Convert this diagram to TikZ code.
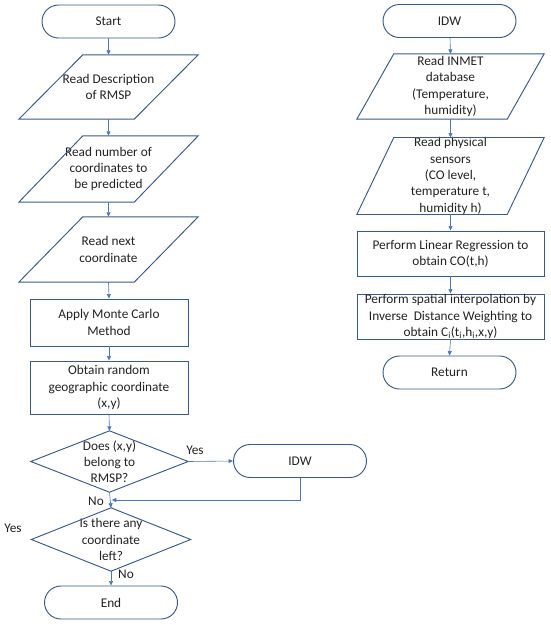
\documentclass[tikz,border=0pt]{standalone}
\usepackage{fontspec}
\setmainfont{Carlito}
\usetikzlibrary{shapes.misc,arrows.meta,calc}
\definecolor{outl}{HTML}{3C5A82}
\definecolor{arr}{HTML}{4F77B5}
\definecolor{txt}{HTML}{222222}
\newcommand\mypara[2]{\draw[shapeline] ([xshift=#2]#1.north west) -- (#1.north east) -- ([xshift=-#2]#1.south east) -- (#1.south west) -- cycle;}
\newcommand\mydiam[1]{\draw[shapeline] (#1.north) -- (#1.east) -- (#1.south) -- (#1.west) -- cycle;}
\begin{document}
\begin{tikzpicture}[x=1pt,y=-1pt,
  every node/.style={font=\fontsize{13.3}{16.3}\selectfont, text=txt, align=center, inner sep=0pt},
  shapeline/.style={draw=outl, line width=0.95pt},
  term/.style={rounded rectangle, shapeline, minimum width=133pt, minimum height=33pt},
  proc/.style={rectangle, shapeline, minimum width=158pt, minimum height=47pt},
  box/.style={rectangle, minimum width=#1},
  conn/.style={draw=arr, line width=0.6pt, -{Triangle[length=4.5pt,width=4pt]}},
  lbl/.style={font=\fontsize{13.3}{15}\selectfont}
]
\useasboundingbox (0,0) rectangle (550,625);
% left column
\node[term] (start) at (108.5,21.5) {Start};
\node[box=179pt, minimum height=64pt] (p1) at (108.5,87) {Read Description\\of RMSP};
\mypara{p1}{64pt}
\node[box=179pt, minimum height=66pt] (p2) at (108.5,169) {Read number of\\coordinates to\\be predicted};
\mypara{p2}{64pt}
\node[box=179pt, minimum height=65pt] (p3) at (108.5,249.5) {Read next\\coordinate};
\mypara{p3}{64pt}
\node[proc] (mc) at (109,322.5) {Apply Monte Carlo\\Method};
\node[proc, minimum height=53pt] (obt) at (109,387.5) {Obtain random\\geographic coordinate\\(x,y)};
\node[box=157pt, minimum height=61pt] (d1) at (109.5,461.5) {Does (x,y)\\belong to\\RMSP?};
\mydiam{d1}
\node[term] (idw1) at (300,461) {IDW};
\node[box=159pt, minimum height=63pt] (d2) at (111,539.5) {Is there any\\coordinate\\left?};
\mydiam{d2}
\node[term] (end) at (111,602.5) {End};
\coordinate (j) at ($(d1.south)!0.5!(d2.north)+(1.5,0)$);
% labels
\node[lbl] (y1) at (195,450) {Yes};
\node[lbl] (n1) at (96,501) {No};
\node[lbl] (y2) at (13,528) {Yes};
\node[lbl] (n2) at (126,574) {No};
% right column
\node[term] (idw) at (449.5,21) {IDW};
\node[box=187pt, minimum height=65pt] (pa) at (450.5,86.5) {Read INMET\\database\\(Temperature,\\humidity)};
\mypara{pa}{37pt}
\node[box=187pt, minimum height=76pt] (pb) at (450.5,176) {Read physical\\sensors\\(CO level,\\temperature t,\\humidity h)};
\mypara{pb}{37pt}
\node[proc, minimum width=187pt, minimum height=45pt] (lr) at (450.5,253.5) {Perform Linear Regression to\\obtain CO(t,h)};
\node[proc, minimum width=187pt, minimum height=45pt] (si) at (450.5,316.5) {Perform spatial interpolation by\\Inverse\ \ Distance Weighting to\\obtain C$_{\mathrm{i}}$(t$_{\mathrm{i}}$,h$_{\mathrm{i}}$,x,y)};
\node[term] (ret) at (449.5,372.5) {Return};
% connectors
\draw[conn] (start) -- (p1.north);
\draw[conn] (p1.south) -- (p2.north);
\draw[conn] (p2.south) -- (p3.north);
\draw[conn] (p3.south) -- (mc.north);
\draw[conn] (mc.south) -- (obt.north);
\draw[conn] (obt.south) -- (d1.north);
\draw[conn] (d1.east) -- (idw1.west);
\draw[conn] (idw1.south) |- (j);
\draw[conn] (d1.south) -- (d2.north);
\draw[conn] (d2.south) -- (end.north);
\draw[conn] (idw) -- (pa.north);
\draw[conn] (pa.south) -- (pb.north);
\draw[conn] (pb.south) -- (lr.north);
\draw[conn] (lr.south) -- (si.north);
\draw[conn] (si.south) -- (ret.north);
\end{tikzpicture}
\end{document}
